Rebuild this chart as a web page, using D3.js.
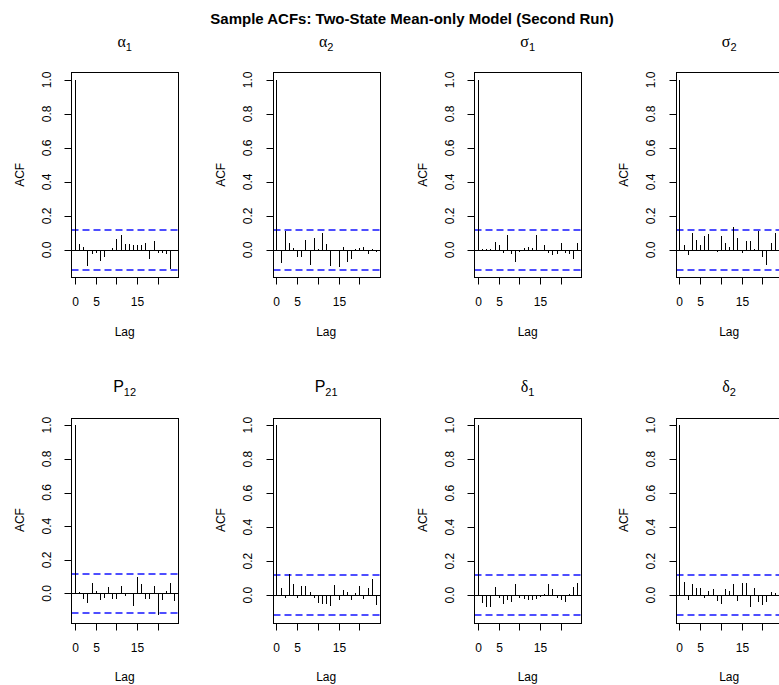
<!DOCTYPE html>
<html>
<head>
<meta charset="utf-8">
<script src="https://cdn.jsdelivr.net/npm/d3@7"></script>
<style>
  html, body { margin: 0; padding: 0; background: #fff; }
  svg { display: block; }
</style>
</head>
<body>
<svg id="chart" width="779" height="685"></svg>
<script>
// ---------- data ----------
const chartTitle = "Sample ACFs: Two-State Mean-only Model (Second Run)";
const lags = [0,1,2,3,4,5,6,7,8,9,10,11,12,13,14,15,16,17,18,19,20,21,22,23,24];

const acfAlpha1 = [1, 0.034, 0.017, -0.095, -0.026, -0.017, -0.065, -0.040, -0.005, 0.013, 0.065, 0.090, 0.034, 0.034, 0.030, 0.026, 0.028, 0.038, -0.052, 0.054, -0.017, -0.017, -0.022, -0.114, -0.005];
const acfAlpha2 = [1, -0.077, 0.110, 0.038, 0.009, -0.042, -0.042, 0.055, -0.089, 0.071, 0.007, 0.100, 0.034, -0.098, -0.007, -0.104, 0.019, -0.069, -0.052, 0.003, 0.011, 0.019, -0.022, 0.005, -0.013];
const acfSigma1 = [1, 0.005, 0.005, 0.007, 0.044, 0.026, -0.017, 0.085, -0.022, -0.069, -0.010, 0.013, 0.015, 0.009, 0.086, -0.009, 0.028, -0.017, -0.030, -0.022, 0.042, -0.019, -0.022, -0.052, 0.042];
const acfSigma2 = [1, 0.026, -0.028, 0.097, 0.055, 0.028, 0.081, 0.093, -0.007, -0.013, 0.083, 0.038, 0.019, 0.137, 0.071, -0.017, 0.050, 0.054, 0.002, 0.108, -0.044, -0.089, 0.040, 0.100, 0.030];
const acfP12    = [1, 0.006, -0.034, -0.058, 0.064, 0.016, -0.038, -0.028, 0.037, -0.030, -0.030, 0.044, -0.017, -0.005, -0.077, 0.095, 0.059, -0.034, -0.030, 0.045, -0.128, -0.041, 0.016, 0.065, -0.046];
const acfP21    = [1, 0.040, -0.015, 0.126, 0.063, -0.015, 0.052, 0.054, 0.020, -0.017, -0.046, -0.050, -0.050, -0.063, 0.059, -0.030, 0.028, 0.020, -0.026, 0.013, 0.052, -0.022, 0.040, 0.097, -0.057];
const acfDelta1 = [1, -0.044, -0.067, -0.067, 0.048, -0.015, -0.050, -0.028, -0.038, 0.063, -0.015, -0.022, -0.030, -0.026, -0.022, -0.011, 0.009, 0.065, 0.034, -0.015, -0.030, -0.042, 0.009, 0.048, 0.071];
const acfDelta2 = [1, 0.079, -0.026, 0.067, 0.042, 0.044, -0.017, 0.026, 0.038, -0.034, -0.050, 0.036, 0.024, 0.067, -0.034, 0.071, 0.071, -0.069, 0.042, -0.040, -0.060, -0.040, 0.020, 0.013, 0.030];

const panelSeries = [acfAlpha1, acfAlpha2, acfSigma1, acfSigma2, acfP12, acfP21, acfDelta1, acfDelta2];
const panelSymbol = ["α", "α", "σ", "σ", "P", "P", "δ", "δ"];
const panelSymbolIsGreek = [true, true, true, true, false, false, true, true];
const panelSub = ["1", "2", "1", "2", "12", "21", "1", "2"];

const ciBound = 0.117;
const yTicks = [0, 0.2, 0.4, 0.6, 0.8, 1.0];
const yTickLabels = ["0.0", "0.2", "0.4", "0.6", "0.8", "1.0"];
const xTicks = [0, 5, 10, 15, 20];
const xTickLabels = ["0", "5", "", "15", ""];
const yLabel = "ACF";
const xLabel = "Lag";

// ---------- layout ----------
const W = 779, H = 685;
const colStep = 201.5, rowStep = 345.3;
const boxL = 71, boxW = 107.3, boxT = 72.3, boxH = 205;
const dashOn = 7, dashOff = 4;
const sans = "'Liberation Sans', Arial, Helvetica, sans-serif";
const serif = "'Liberation Serif', 'DejaVu Serif', serif";
const snap = v => Math.round(v) + 0.5;

const svg = d3.select("#chart");
svg.append("rect").attr("width", W).attr("height", H).attr("fill", "#fff");

svg.append("text")
  .attr("x", 412).attr("y", 24)
  .attr("text-anchor", "middle")
  .attr("font-family", sans).attr("font-weight", "bold").attr("font-size", 15)
  .text(chartTitle);

panelSeries.forEach((vals, i) => {
  const c = i % 4, r = Math.floor(i / 4);
  const ox = c * colStep, oy = r * rowStep;
  const g = svg.append("g");

  const lo = Math.min(d3.min(vals), -ciBound), hi = Math.max(d3.max(vals), ciBound);
  const pad = (hi - lo) * 0.04;
  const lagExt = d3.extent(lags);
  const lagPad = (lagExt[1] - lagExt[0]) * 0.04;

  const left = snap(ox + boxL), right = snap(ox + boxL + boxW);
  const top = snap(oy + boxT), bottom = snap(oy + boxT + boxH);

  const x = d3.scaleLinear().domain([lagExt[0] - lagPad, lagExt[1] + lagPad]).range([ox + boxL, ox + boxL + boxW]);
  const y = d3.scaleLinear().domain([lo - pad, hi + pad]).range([oy + boxT + boxH, oy + boxT]);

  // zero line
  g.append("path")
    .attr("d", `M${left},${snap(y(0))}H${right}`)
    .style("stroke", "#000").style("stroke-width", 1).style("fill", "none");

  // CI lines (dashed, blue)
  [ciBound, -ciBound].forEach(v => {
    const yy = Math.round(y(v));
    let d = "";
    for (let s = left; s < right; s += dashOn + dashOff) {
      d += `M${s},${yy}H${Math.min(s + dashOn, right)}`;
    }
    g.append("path")
      .attr("d", d)
      .style("stroke", "rgb(20,20,255)").style("stroke-width", 1.5).style("fill", "none");
  });

  // bars
  g.selectAll("path.bar").data(lags).enter().append("path")
    .attr("class", "bar")
    .attr("d", d => `M${snap(x(d))},${snap(y(0))}V${Math.round(y(vals[d]))}`)
    .style("stroke", "#000").style("stroke-width", 1).style("fill", "none");

  // box
  g.append("rect")
    .attr("x", left).attr("y", top).attr("width", right - left).attr("height", bottom - top)
    .style("fill", "none").style("stroke", "#000").style("stroke-width", 1);

  // y axis ticks
  const yAxis = d3.axisLeft(y).tickValues(yTicks).tickSize(7).tickPadding(0)
    .tickFormat((d, k) => yTickLabels[k]);
  const ya = g.append("g").attr("transform", `translate(${left},0)`).call(yAxis);
  ya.select(".domain").remove();
  ya.selectAll(".tick").attr("transform", d => `translate(0,${snap(y(d))})`);
  ya.selectAll(".tick line").attr("stroke", "#000");
  ya.selectAll(".tick text").remove();
  yTicks.forEach((t, k) => {
    g.append("text")
      .attr("transform", `translate(${ox + boxL - 24.3},${y(t)}) rotate(-90)`)
      .attr("text-anchor", "middle").attr("dy", "0.35em")
      .attr("font-family", sans).attr("font-size", 12).attr("fill", "#000")
      .text(yTickLabels[k]);
  });

  // x axis ticks
  const xAxis = d3.axisBottom(x).tickValues(xTicks).tickSize(7).tickPadding(0)
    .tickFormat((d, k) => xTickLabels[k]);
  const xa = g.append("g").attr("transform", `translate(0,${bottom})`).call(xAxis);
  xa.select(".domain").remove();
  xa.selectAll(".tick").attr("transform", d => `translate(${snap(x(d))},0)`);
  xa.selectAll(".tick line").attr("stroke", "#000");
  xa.selectAll(".tick text")
    .attr("y", 24).attr("dy", "0.35em")
    .attr("font-family", sans).attr("font-size", 12).attr("fill", "#000");

  const cx = ox + boxL + boxW / 2;
  // axis labels
  g.append("text")
    .attr("transform", `translate(${ox + 19.3},${oy + boxT + boxH / 2}) rotate(-90)`)
    .attr("text-anchor", "middle").attr("dy", "0.35em")
    .attr("font-family", sans).attr("font-size", 12)
    .text(yLabel);
  g.append("text")
    .attr("x", cx).attr("y", oy + boxT + boxH + 54.4).attr("dy", "0.35em")
    .attr("text-anchor", "middle")
    .attr("font-family", sans).attr("font-size", 12)
    .text(xLabel);

  // panel title
  const t = g.append("text")
    .attr("x", cx).attr("y", oy + 47)
    .attr("text-anchor", "middle")
    .attr("font-size", 16);
  t.append("tspan")
    .attr("font-family", panelSymbolIsGreek[i] ? serif : sans)
    .text(panelSymbol[i]);
  t.append("tspan")
    .attr("font-family", sans).attr("font-size", 11).attr("dy", 4)
    .text(panelSub[i]);
});
</script>
</body>
</html>
